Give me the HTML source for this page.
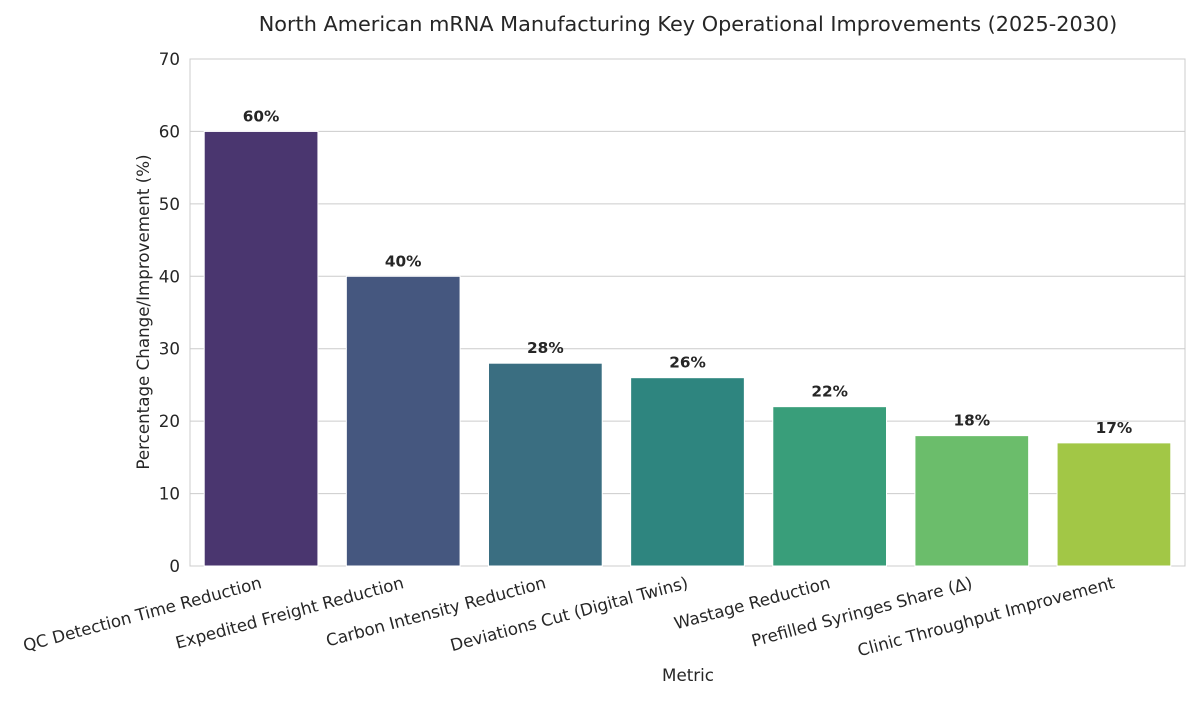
<!DOCTYPE html>
<html><head><meta charset="utf-8"><style>
body{margin:0;background:#fff;font-family:"DejaVu Sans","Liberation Sans",sans-serif;}
</style></head><body>
<svg id="chart" width="1200" height="700" xmlns="http://www.w3.org/2000/svg" font-family="DejaVu Sans, Liberation Sans, sans-serif"></svg>
<script>
const categories=["QC Detection Time Reduction","Expedited Freight Reduction","Carbon Intensity Reduction","Deviations Cut (Digital Twins)","Wastage Reduction","Prefilled Syringes Share (Δ)","Clinic Throughput Improvement"];
const values=[60,40,28,26,22,18,17];
const valueLabels=["60%","40%","28%","26%","22%","18%","17%"];
const yTicks=[0,10,20,30,40,50,60,70];
const colors=["#4a366f","#45577f","#3a6e81","#2e857f","#399e7a","#6bbd6b","#a2c746"];
const svg=document.getElementById('chart');
const NS="http://www.w3.org/2000/svg";
const L=190,R=1185,T=59,B=566,yMax=70;
const y=v=>B-(v/yMax)*(B-T);
const band=(R-L)/categories.length;
const x=i=>L+band*i+band/2;
function mk(tag,attrs,text){const e=document.createElementNS(NS,tag);for(const k in attrs)e.setAttribute(k,attrs[k]);if(text!==undefined)e.textContent=text;svg.appendChild(e);return e;}
yTicks.forEach(t=>{
 const g=mk('line',{x1:L,x2:R,y1:y(t),y2:y(t),stroke:'#cccccc','stroke-width':1});
 
 
 const tl=mk('text',{x:L-10,y:y(t)+6,'text-anchor':'end','font-size':16.7,fill:'#262626'},t);
 
 
});
const fr=mk('rect',{x:L,y:T,width:R-L,height:B-T,fill:'none',stroke:'#cccccc','stroke-width':1});


const bw=band*0.8;
categories.forEach((c,i)=>{
 const b=mk('rect',{x:x(i)-bw/2,y:y(values[i]),width:bw,height:B-y(values[i]),fill:colors[i],stroke:'#ffffff','stroke-width':1});
 
 
 const v=mk('text',{x:x(i),y:y(values[i])-10,'text-anchor':'middle','font-size':15.3,'font-weight':'bold',fill:'#262626'},valueLabels[i]);
 
 
 const cl=mk('text',{x:x(i),y:B+22,'text-anchor':'end','font-size':16.7,fill:'#262626',transform:`rotate(-15 ${x(i)} ${B+16})`},c);
 
 
});
const t=mk('text',{x:688,y:31,'text-anchor':'middle','font-size':20.8,fill:'#262626'},"North American mRNA Manufacturing Key Operational Improvements (2025-2030)");


const xt=mk('text',{x:688,y:681,'text-anchor':'middle','font-size':16.7,fill:'#262626'},"Metric");


const yt=mk('text',{x:149,y:312,'text-anchor':'middle','font-size':16.7,fill:'#262626',transform:'rotate(-90 149 312)'},"Percentage Change/Improvement (%)");


</script>
</body></html>
